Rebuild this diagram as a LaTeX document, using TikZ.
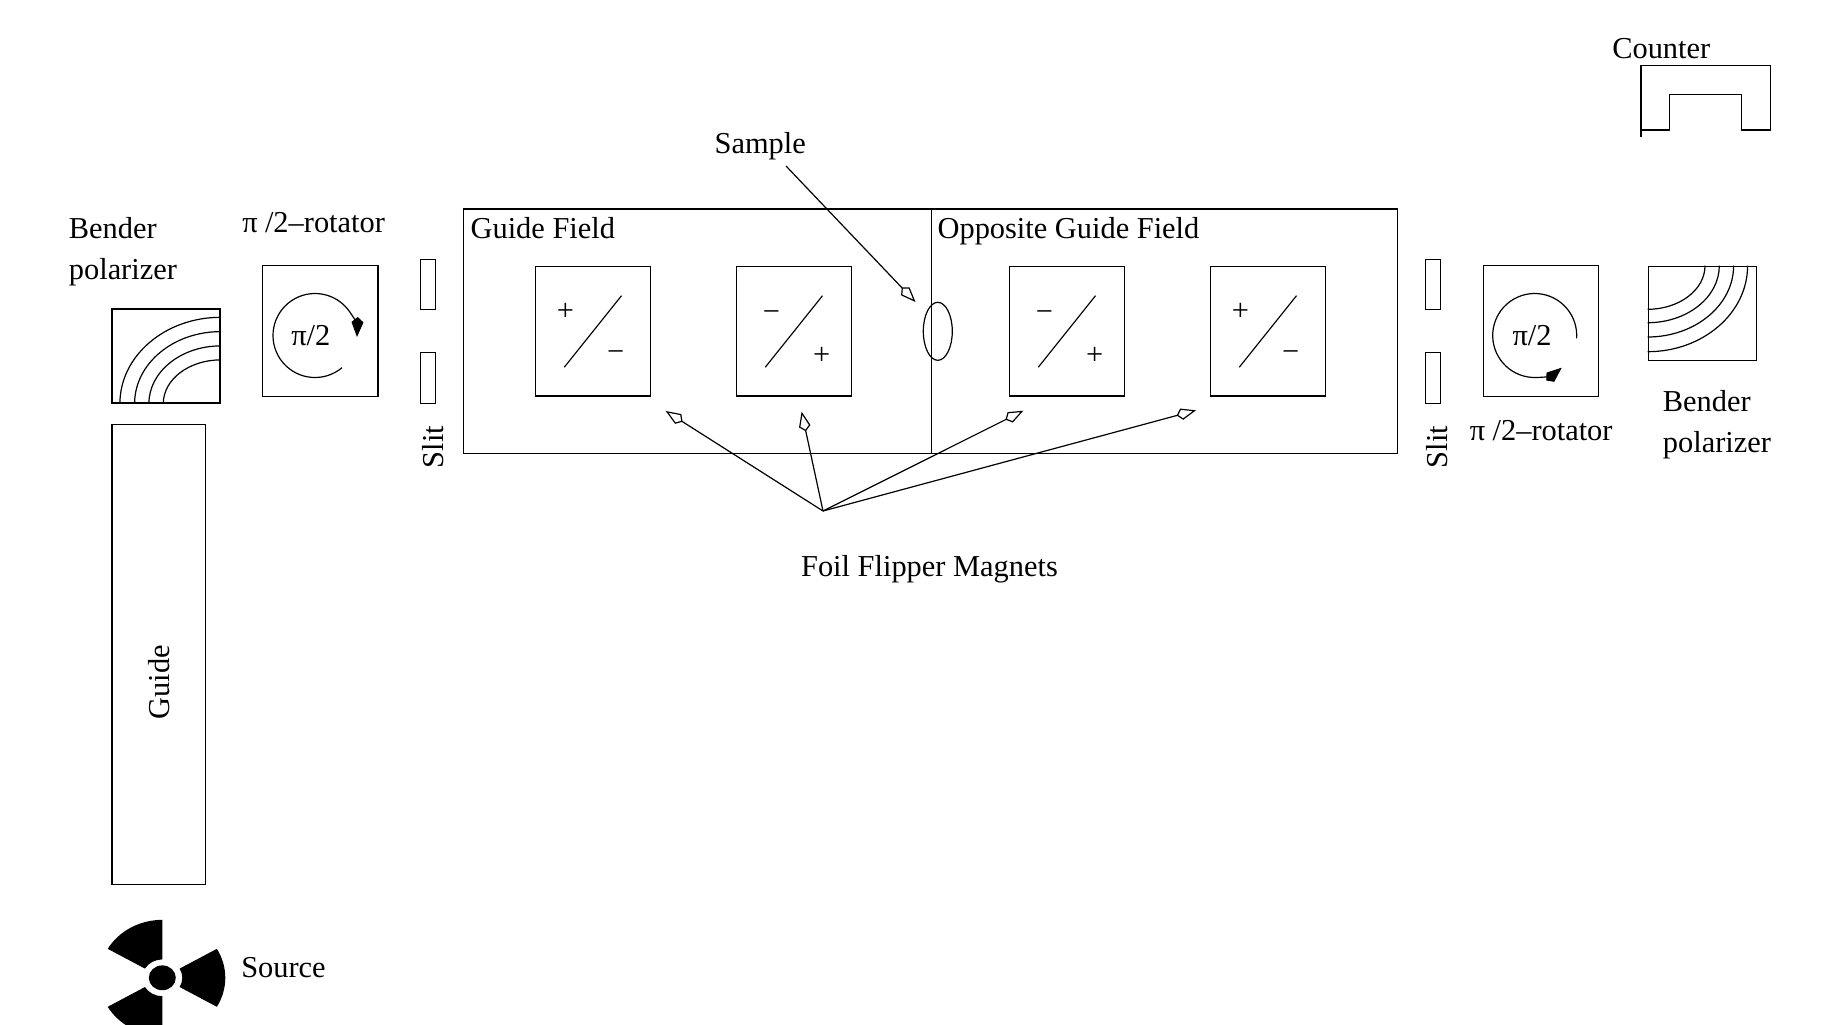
\documentclass[tikz,border=0pt]{standalone}
\usepackage{fontspec}
\setmainfont{Liberation Serif}
\usetikzlibrary{calc,shapes,arrows.meta}
\tikzset{
	every node/.style={font=\fontsize{15.2}{20.4}\selectfont},
	flipper/.style={
		rectangle,
		draw=black,
		minimum width=57.8pt,
		minimum height=64.8pt
	},
	rotator/.style={
		rectangle,
		draw=black,
		minimum width=57.7pt,
		minimum height=65.3pt
	},
	slit/.style={
		rectangle,
		draw=black,
		minimum width=7.5pt,
		minimum height=25.3pt,
		node distance=46.7pt
	},
	bender/.style={
		rectangle,
		draw=black,
		minimum width=54pt,
		minimum height=47pt
	},
	lbl/.style={inner sep=0, anchor=base west},
	vlbl/.style={inner sep=0, anchor=base, rotate=90},
	sign/.style={inner sep=0},
	pointer/.style={-{Kite[open, length=10pt, width=5.8pt, inset=2.6pt]}},
	turn/.style={-{Kite[length=10pt, width=6pt, inset=2.6pt]}}
}
\begin{document}
\begin{tikzpicture}[x=0.5pt, y=-0.5pt, semithick]
		\path[use as bounding box, clip] (0,0) rectangle (1832,1024);

		% source
		\begin{scope}[shift={(162.3,977.8)}, yscale=0.92]
			\fill (-30:20) -- (-30:63) arc[start angle=-30, end angle=30, radius=63] -- (30:20) arc[start angle=30, end angle=-30, radius=20] -- cycle;
			\fill (-150:20) -- (-150:63) arc[start angle=-150, end angle=-90, radius=63] -- (-90:20) arc[start angle=-90, end angle=-150, radius=20] -- cycle;
			\fill (90:20) -- (90:63) arc[start angle=90, end angle=150, radius=63] -- (150:20) arc[start angle=150, end angle=90, radius=20] -- cycle;
			\fill (0,0) circle[radius=13.5];
		\end{scope}
		\node [lbl] (source) at (240.7,977.6) {Source};

		\node [draw, rectangle, minimum width=46.9pt, minimum height=230pt] (guide) at (158.9,654.3) {};
		\node [vlbl] (guidelbl) at (169.5,682) {Guide};

		% first bender
		\node [bender] (benderL) at (166,356) {};
		\draw ($(benderL.south east)+(-100.7,0)$) arc[start angle=180, end angle=270, x radius=100.7, y radius=86.3];
		\draw ($(benderL.south east)+(-86,0)$) arc[start angle=180, end angle=270, x radius=86, y radius=72];
		\draw ($(benderL.south east)+(-71.7,0)$) arc[start angle=180, end angle=270, x radius=71.7, y radius=57.7];
		\draw ($(benderL.south east)+(-57.3,0)$) arc[start angle=180, end angle=270, x radius=57.3, y radius=43.7];
		\node [lbl, align=left] (benderLlbl) at (68.3,279.3) {Bender\\polarizer};

		% first rotator
		\node [rotator] (rotL) at (320.3,331) {};
		\coordinate (turnL) at ($(rotL)+(-5.3,4.5)$);
		\draw [turn] ($(turnL)+(50:42)$) arc[start angle=50, end angle=362, radius=42];
		\node [lbl] (piL) at (290.7,345.7) {π/2};
		\node [lbl] (rotLlbl) at (241.7,232.7) {π\hspace{3.7pt}/2–rotator};

		\node [slit] (slitA) at (428.2,284.5) {};
		\node [slit, below of=slitA] (slitB) {};
		\node [vlbl] (slitLlbl) at (443.3,447) {Slit};

		% field region
		\node [draw, rectangle, minimum width=233.7pt, minimum height=122.2pt] (fieldL) at (697.5,331.2) {};
		\node [draw, rectangle, minimum width=233.1pt, minimum height=122.2pt] (fieldR) at (1164.3,331.2) {};
		\node [lbl] (fieldLlbl) at (470,238) {Guide Field};
		\node [lbl] (fieldRlbl) at (937,238) {Opposite Guide Field};

		\node [flipper] (flip1) at (593,331.2) {};
		\node [flipper, right of=flip1, node distance=100.5pt] (flip2) {};
		\node [flipper, right of=flip2, node distance=136.5pt] (flip3) {};
		\node [flipper, right of=flip3, node distance=100.5pt] (flip4) {};

		\draw ($(flip1)+(-28.7,36)$) -- ($(flip1)+(28.5,-35.5)$);
		\draw ($(flip2)+(-28.7,36)$) -- ($(flip2)+(28.5,-35.5)$);
		\draw ($(flip3)+(-28.7,36)$) -- ($(flip3)+(28.5,-35.5)$);
		\draw ($(flip4)+(-28.7,36)$) -- ($(flip4)+(28.5,-35.5)$);

		\node [sign] (plus1) at ($(flip1)+(-27.5,-19.4)$) {+};
		\node [sign] (minus1) at ($(flip1)+(22.7,25)$) {−};
		\node [sign] (minus2) at ($(flip2)+(-22.6,-14.8)$) {−};
		\node [sign] (plus2) at ($(flip2)+(27.6,24.8)$) {+};
		\node [sign] (minus3) at ($(flip3)+(-22.6,-14.8)$) {−};
		\node [sign] (plus3) at ($(flip3)+(27.6,24.8)$) {+};
		\node [sign] (plus4) at ($(flip4)+(-27.5,-19.4)$) {+};
		\node [sign] (minus4) at ($(flip4)+(22.7,25)$) {−};

		\node [draw, ellipse, inner sep=0, minimum width=14.5pt, minimum height=29pt] (sample) at (937.8,331.3) {};
		\node [lbl] (samplelbl) at (714,153) {Sample};
		\coordinate (samplefoot) at (786,166);
		\coordinate (sampletip) at (915.5,302);
		\draw [pointer] (samplefoot) -- (sampletip);

		% flipper pointers
		\node [lbl] (foillbl) at (800.5,576) {Foil Flipper Magnets};
		\coordinate (fan) at (823,511);
		\coordinate (tip1) at (665.7,411);
		\coordinate (tip2) at (801.6,411.7);
		\coordinate (tip3) at (1023.4,410.7);
		\coordinate (tip4) at (1196,410.3);
		\draw [pointer] (fan) -- (tip1);
		\draw [pointer] (fan) -- (tip2);
		\draw [pointer] (fan) -- (tip3);
		\draw [pointer] (fan) -- (tip4);

		\node [slit] (slitC) at (1433.2,284.5) {};
		\node [slit, below of=slitC] (slitD) {};
		\node [vlbl] (slitRlbl) at (1447.7,447) {Slit};

		% second rotator
		\node [rotator] (rotR) at (1540.8,331) {};
		\coordinate (turnR) at (1534.7,335.5);
		\draw [turn] ($(turnR)+(4:42)$) arc[start angle=4, end angle=-310, radius=42];
		\node [lbl] (piR) at (1512,345.7) {π/2};
		\node [lbl] (rotRlbl) at (1469.3,440.3) {π\hspace{3.7pt}/2–rotator};

		% second bender
		\node [bender] (benderR) at (1702.2,313.3) {};
		\draw ($(benderR.north west)+(100,0)$) arc[start angle=0, end angle=90, x radius=100, y radius=86];
		\draw ($(benderR.north west)+(86,0)$) arc[start angle=0, end angle=90, x radius=86, y radius=71.3];
		\draw ($(benderR.north west)+(71.7,0)$) arc[start angle=0, end angle=90, x radius=71.7, y radius=57];
		\draw ($(benderR.north west)+(57.4,0)$) arc[start angle=0, end angle=90, x radius=57.4, y radius=43.6];
		\node [lbl, align=left] (benderRlbl) at (1662.3,452.7) {Bender\\polarizer};

		% counter
		\node [lbl] (counterlbl) at (1611.7,58.3) {Counter};
		\draw (1641,137) -- (1641,65.7) -- (1770.7,65.7) -- (1770.7,130) -- (1741.7,130) -- (1741.7,94.7) -- (1669.7,94.7) -- (1669.7,130) -- (1641,130);
	\end{tikzpicture}
\end{document}
